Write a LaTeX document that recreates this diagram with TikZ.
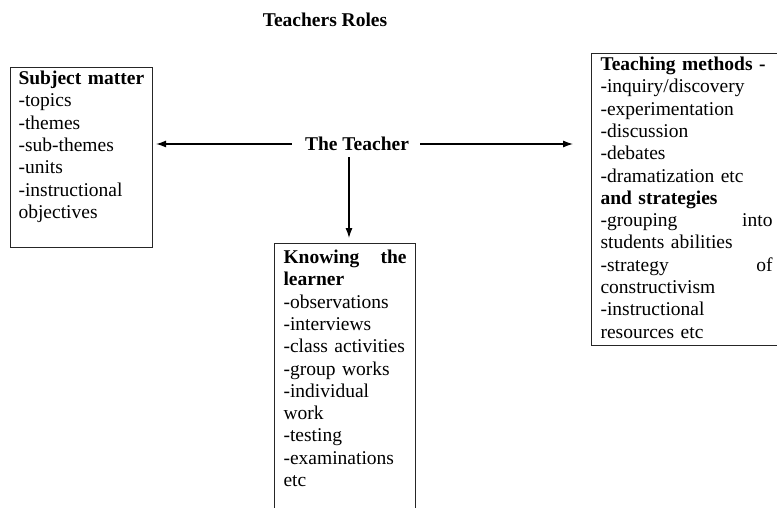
\documentclass[tikz,border=0pt]{standalone}
\usepackage{fontspec}
\setmainfont{Liberation Serif}
\usepackage{tikz}
\usetikzlibrary{arrows.meta,positioning}

\begin{document}
\begin{tikzpicture}[
    x=1pt, y=-1pt,
    font=\fontsize{19.5}{22.3}\selectfont,
    rolebox/.style={draw=black!85, line width=1.1pt, anchor=north west,
        align=left, inner xsep=9pt, inner ysep=0pt},
    link/.style={line width=1.1pt, -{Latex[length=10pt,width=7pt]}}
]
\useasboundingbox (0,0) rectangle (777,508);

% Title
\node[font=\fontsize{19.5}{22.3}\selectfont\bfseries] (title) at (325,20) {Teachers Roles};

% Centre
\node[font=\fontsize{19.5}{22.3}\selectfont\bfseries, inner sep=0pt] (teacher) at (357,144) {The Teacher};

% Left box
\node[rolebox, inner xsep=8pt, text width=126pt, text height=17pt, text depth=163pt] (subject) at (10,67) {%
    \mbox{\textbf{Subject matter}}\\
    -topics\\
    -themes\\
    -sub-themes\\
    -units\\
    -instructional\\
    objectives};

% Bottom box
\node[rolebox, text width=123pt, text height=20pt, text depth=280pt] (learner) at (274,243) {%
    \textbf{Knowing\hfill the}\\
    \textbf{learner}\\
    -observations\\
    -interviews\\
    -class activities\\
    -group works\\
    -individual\\
    work\\
    -testing\\
    -examinations\\
    etc};

% Right box
\node[rolebox, text width=172pt, text height=17pt, text depth=275pt] (methods) at (591,53) {%
    \textbf{Teaching methods -}\\
    -inquiry/discovery\\
    -experimentation\\
    -discussion\\
    -debates\\
    -dramatization etc\\
    \textbf{and strategies}\\
    -grouping\hfill into\\
    students abilities\\
    -strategy\hfill of\\
    constructivism\\
    -instructional\\
    resources etc};

% Arrows
\draw[link, shorten <=13pt, shorten >=3pt] (teacher.west) -- (teacher.west -| subject.east);
\draw[link, shorten <=11pt, shorten >=18pt] (teacher.east) -- (teacher.east -| methods.west);
\draw[link, shorten <=6pt, shorten >=5pt] ([xshift=-8pt]teacher.south) -- ([xshift=-8pt]teacher.south |- learner.north);

\end{tikzpicture}
\end{document}
